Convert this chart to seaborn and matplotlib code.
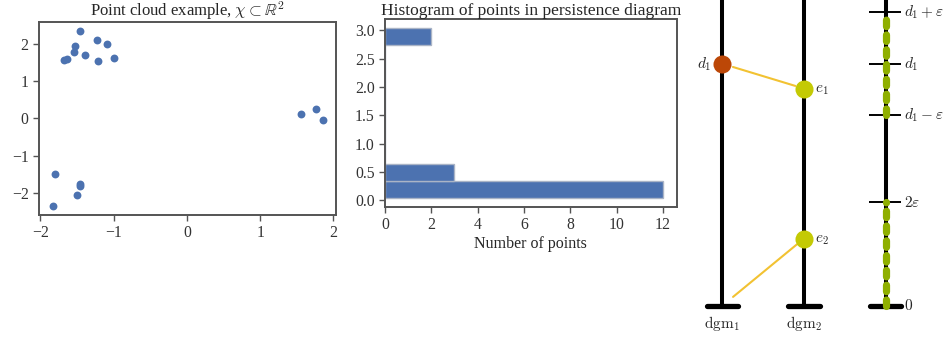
import numpy as np
import pandas as pd
import matplotlib
matplotlib.use("Agg")
import matplotlib.pyplot as plt
import seaborn as sns

# ---------------- data ----------------
# point cloud
pc_x = [-1.454, -1.222, -1.094, -1.522, -1.536, -1.395, -0.990, -1.213, -1.677, -1.640,
        1.559, 1.759, 1.850,
        -1.795, -1.458, -1.454, -1.495, -1.832]
pc_y = [2.35, 2.11, 2.00, 1.93, 1.77, 1.69, 1.61, 1.54, 1.56, 1.59,
        0.126, 0.243, -0.036,
        -1.505, -1.757, -1.820, -2.054, -2.360]

# histogram of persistence values (non-empty bins: centre value, count)
hist_values = [0.186, 0.487, 2.897]
hist_counts = [12, 3, 2]
hist_range = (0.035, 3.047)
hist_bins = 10

# schematic persistence diagrams (in units of epsilon)
eps = 1.0
d1 = 4.68
e1 = 4.20
e2 = 1.30
column_labels = [r"$\mathrm{dgm}_1$", r"$\mathrm{dgm}_2$"]
scale_labels = [r"$d_1+\varepsilon$", r"$d_1$", r"$d_1-\varepsilon$", r"$2\varepsilon$", r"$0$"]

# ---------------- style ----------------
sns.set_theme(style="ticks")
plt.rcParams["font.family"] = ["Liberation Serif", "DejaVu Serif"]
plt.rcParams["mathtext.fontset"] = "cm"
spine_c = "0.33"
blue = "#4C72B0"

fig = plt.figure(figsize=(9.47, 3.37), dpi=100)

# ---- panel 1: scatter ----
ax1 = fig.add_axes([39 / 947, 1 - 215 / 337, 297 / 947, 193 / 337])
df = pd.DataFrame({"x": pc_x, "y": pc_y})
sns.scatterplot(data=df, x="x", y="y", ax=ax1, color=blue, s=32, linewidth=0)
ax1.set_xlabel("")
ax1.set_ylabel("")
ax1.set_xticks([-2, -1, 0, 1, 2])
ax1.set_yticks([-2, -1, 0, 1, 2])
ax1.set_title(r"Point cloud example, $\chi \subset \mathbb{R}^2$", fontsize=12.0, pad=0.3)

# ---- panel 2: histogram ----
ax2 = fig.add_axes([385 / 947, 1 - 207 / 337, 291.7 / 947, 188 / 337])
hdf = pd.DataFrame({"v": hist_values, "n": hist_counts})
sns.histplot(data=hdf, y="v", weights="n", bins=hist_bins, binrange=hist_range,
             ax=ax2, color=blue, alpha=1.0, edgecolor="#aab4c6", linewidth=1.0)
ax2.set_ylabel("")
ax2.set_xlabel("Number of points", fontsize=11.5, labelpad=2)
ax2.set_xticks([0, 2, 4, 6, 8, 10, 12])
ax2.set_yticks([0.0, 0.5, 1.0, 1.5, 2.0, 2.5, 3.0])
ax2.set_yticklabels([f"{t:.1f}" for t in [0.0, 0.5, 1.0, 1.5, 2.0, 2.5, 3.0]])
ax2.set_title("Histogram of points in persistence diagram", fontsize=12.5, pad=3)

for ax in (ax1, ax2):
    for sp in ax.spines.values():
        sp.set_color(spine_c)
        sp.set_linewidth(1.4)
    ax.tick_params(colors=spine_c, labelcolor="0.2", labelsize=11.3, length=4, width=1.0)

# ---- panel 3: schematic ----
ax3 = fig.add_axes([680 / 947, 0, 267 / 947, 1])
ax3.set_xlim(-0.518, 2.75)
ax3.set_ylim(-0.605, 5.913)
ax3.axis("off")

line_top = 6.5
for xc in (0, 1, 2):
    ax3.plot([xc, xc], [0, line_top], color="black", lw=2.9, solid_capstyle="butt", zorder=2)
    ax3.plot([xc - 0.19, xc + 0.19], [0, 0], color="black", lw=3.8,
             solid_capstyle="round", zorder=2)

for xc, lab in zip((0, 1), column_labels):
    ax3.text(xc, -0.335, lab, ha="center", va="center", fontsize=11, math_fontfamily="cm")

# matching lines
gold = "#F2C232"
ax3.annotate("", xy=(1, e1), xytext=(0, d1),
             arrowprops=dict(arrowstyle="-", color=gold, lw=1.5, shrinkA=8, shrinkB=6.5))
ax3.annotate("", xy=(0, 0), xytext=(1, e2),
             arrowprops=dict(arrowstyle="-", color=gold, lw=1.5, shrinkA=6.5, shrinkB=10))

# points
ax3.plot([0], [d1], "o", color="#BC4707", ms=13, mec="none", zorder=4)
ax3.plot([1, 1], [e1, e2], "o", color="#C4CA04", ms=13, mec="none", zorder=4)
ax3.text(-0.13, d1, r"$d_1$", ha="right", va="center", fontsize=11, math_fontfamily="cm")
ax3.text(1.135, e1 - 0.03, r"$e_1$", ha="left", va="center", fontsize=11, math_fontfamily="cm")
ax3.text(1.135, e2 - 0.03, r"$e_2$", ha="left", va="center", fontsize=11, math_fontfamily="cm")

# epsilon scale
green = "#8FAF00"
for lo, hi in [(d1 - eps, d1 + eps), (0, 2 * eps)]:
    ax3.plot([2, 2], [lo, hi], color=green, lw=5.2, dashes=(0.9, 1.15),
             dash_capstyle="round", zorder=3)
scale_vals = [d1 + eps, d1, d1 - eps, 2 * eps, 0]
for v, lab in zip(scale_vals, scale_labels):
    if v != 0:
        ax3.plot([2 - 0.204, 2 + 0.184], [v, v], color="black", lw=1.4,
                 solid_capstyle="butt", zorder=2)
    ax3.text(2.225, v, lab, ha="left", va="center", fontsize=11, math_fontfamily="cm")

fig.savefig("out.png", dpi=100)
